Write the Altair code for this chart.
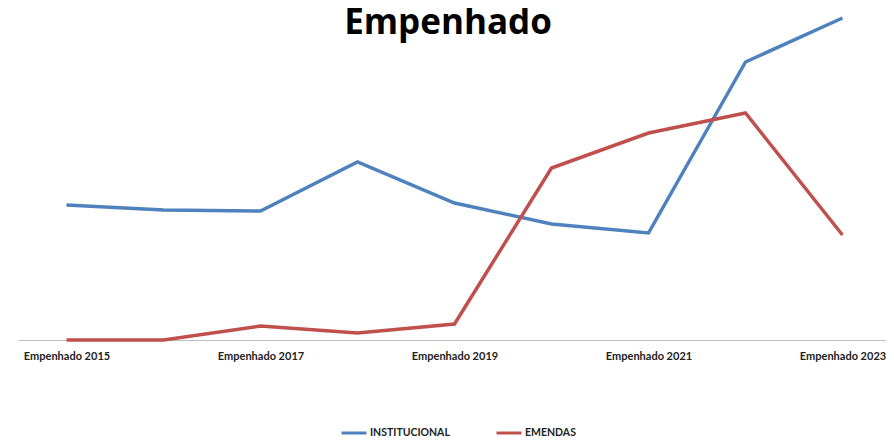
import altair as alt
import pandas as pd

categories = ["Empenhado 2015", "Empenhado 2016", "Empenhado 2017", "Empenhado 2018",
              "Empenhado 2019", "Empenhado 2020", "Empenhado 2021", "Empenhado 2022",
              "Empenhado 2023"]
institucional = [135, 130, 129, 178, 137, 116, 107, 278, 322]
emendas = [0, 0, 14, 7, 16, 172, 207, 227, 105]
series_names = ["INSTITUCIONAL", "EMENDAS"]
series_colors = ["#4f81bd", "#c0504d"]
shown_labels = ["Empenhado 2015", "Empenhado 2017", "Empenhado 2019",
                "Empenhado 2021", "Empenhado 2023"]
chart_title = "Empenhado"

rows = []
for c, v in zip(categories, institucional):
    rows.append({"cat": c, "serie": "INSTITUCIONAL", "valor": v})
for c, v in zip(categories, emendas):
    rows.append({"cat": c, "serie": "EMENDAS", "valor": v})
df = pd.DataFrame(rows)

FONT = "Lato"
W = 868
H = 322

lines = alt.Chart(df).mark_line(strokeWidth=3.5).encode(
    x=alt.X("cat:N", sort=categories, title=None,
            scale=alt.Scale(type="point", padding=0.5, range=[0, 873]),
            axis=alt.Axis(values=shown_labels, labelAngle=0, ticks=False,
                          domainColor="#bfbfbf", domainWidth=1,
                          labelFont=FONT, labelFontSize=11, labelFontWeight="bold",
                          labelColor="#222222", labelPadding=10, grid=False)),
    y=alt.Y("valor:Q", title=None, axis=None,
            scale=alt.Scale(domain=[0, 322], nice=False, zero=True)),
    color=alt.Color("serie:N", sort=series_names,
                    scale=alt.Scale(domain=series_names, range=series_colors),
                    legend=alt.Legend(title=None, orient="none", direction="horizontal",
                                      legendX=322, legendY=401,
                                      symbolType="stroke", symbolSize=625,
                                      symbolStrokeWidth=3, columnPadding=40,
                                      labelFont=FONT, labelFontSize=10.5,
                                      labelFontWeight="bold", labelColor="#222222",
                                      labelOffset=2)),
)

title_text = alt.Chart(pd.DataFrame({"t": [chart_title]})).mark_text(
    font="Open Sans", fontSize=35, fontWeight="bold", color="#000000",
    align="center", baseline="alphabetic"
).encode(
    text="t:N",
    x=alt.value(430),
    y=alt.value(16),
)

chart = alt.layer(lines, title_text).properties(
    width=W,
    height=H,
    autosize=alt.AutoSizeParams(type="none"),
    padding={"left": 10, "top": 10, "right": 0, "bottom": 100},
).configure_view(stroke=None)

chart.save("out.html", embed_options={"renderer": "svg", "actions": False})
